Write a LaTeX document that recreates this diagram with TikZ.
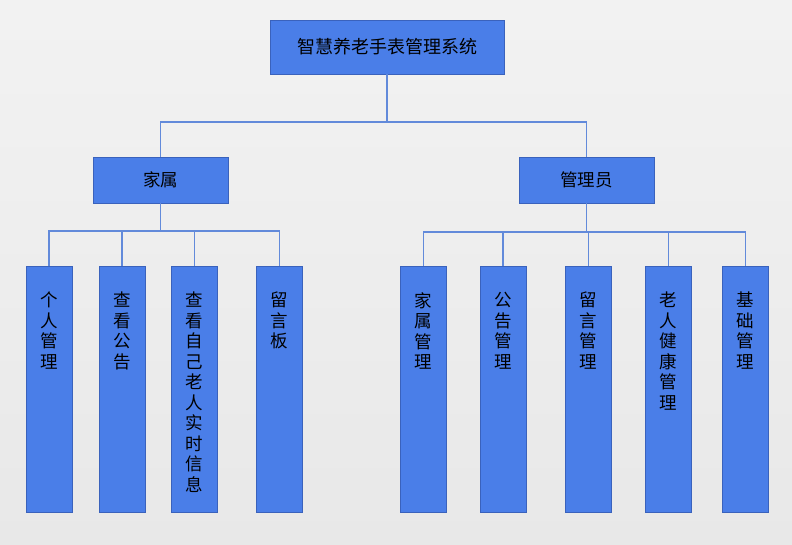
\documentclass[tikz,border=0pt]{standalone}
\usepackage{fontspec}
\setmainfont{Noto Sans CJK SC}
\definecolor{boxblue}{RGB}{74,126,232}
\definecolor{edgeblue}{RGB}{58,98,188}
\definecolor{lineblue}{RGB}{98,138,218}

\begin{document}
\begin{tikzpicture}[x=1pt,y=-1pt,
    box/.style={rectangle,draw=edgeblue,fill=boxblue,line width=0.9pt,inner sep=0pt,outer sep=0pt,text=black},
    top/.style={box,minimum width=234pt,minimum height=54pt,font=\fontsize{18}{20}\selectfont},
    mid/.style={box,minimum width=135pt,minimum height=46pt,font=\fontsize{17.5}{20}\selectfont},
    leaf/.style={box,anchor=north,minimum width=46pt,minimum height=246pt},
    vtext/.style={anchor=north,yshift=-26pt,inner sep=0pt,align=center,text=black,font=\fontsize{17.5}{20.5}\selectfont},
    conn/.style={draw=lineblue,line width=1.3pt}]
    \shade[top color=black!5,bottom color=black!9] (0,0) rectangle (792,545);
    \useasboundingbox (0,0) rectangle (792,545);

    \node[top](sys) at (387,47) {智慧养老手表管理系统};
    \node[mid](jia) at (160.5,180) {家属};
    \node[mid](gly) at (586.5,180) {管理员};

    % family side
    \node[leaf,label={[vtext]north:个\\人\\管\\理}](p1) at (49,266) {};
    \node[leaf,label={[vtext]north:查\\看\\公\\告}](p2) at (122,266) {};
    \node[leaf,label={[vtext]north:查\\看\\自\\己\\老\\人\\实\\时\\信\\息}](p3) at (194.5,266) {};
    \node[leaf,label={[vtext]north:留\\言\\板}](p4) at (279.5,266) {};

    % admin side
    \node[leaf,label={[vtext]north:家\\属\\管\\理}](a1) at (423.5,266) {};
    \node[leaf,label={[vtext]north:公\\告\\管\\理}](a2) at (503,266) {};
    \node[leaf,label={[vtext]north:留\\言\\管\\理}](a3) at (588.5,266) {};
    \node[leaf,label={[vtext]north:老\\人\\健\\康\\管\\理}](a4) at (668.5,266) {};
    \node[leaf,label={[vtext]north:基\\础\\管\\理}](a5) at (745.5,266) {};

    \foreach \m in {jia,gly}
        \draw[conn] (sys.south) -- ++(0,48) -| (\m.north);
    \foreach \m in {p1,p2,p3,p4}
        \draw[conn] (jia.south) -- ++(0,28) -| (\m.north);
    \foreach \m in {a1,a2,a3,a4,a5}
        \draw[conn] (gly.south) -- ++(0,29) -| (\m.north);
\end{tikzpicture}
\end{document}
